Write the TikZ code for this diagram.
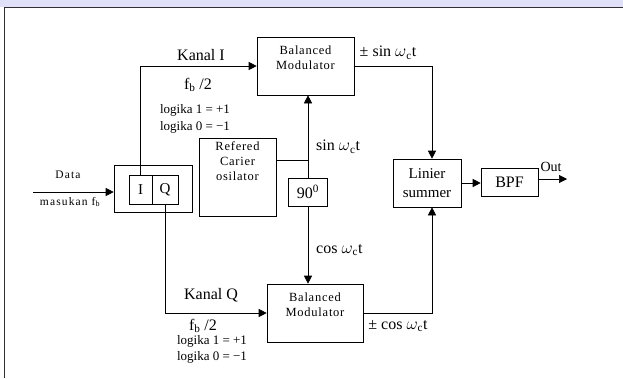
\documentclass[tikz,border=0pt]{standalone}
\usepackage{fontspec}
\setmainfont{Liberation Serif}
\usetikzlibrary{positioning, arrows.meta, calc}
\definecolor{bandblue}{HTML}{E0E0F8}
\definecolor{framegray}{HTML}{303030}
\newcommand{\wc}{\ensuremath{\omega}\textsubscript{c}t}
\tikzset{
	blockbox/.style={
			draw=black,
			line width=0.6pt,
			fill=white,
			inner sep=0pt,
			align=center,
			font=\fontsize{12.5}{15}\selectfont\addfontfeature{LetterSpace=6}
		},
	signal/.style={
			line width=0.6pt,
			-{Triangle[length=8pt,width=8pt]}
		},
	wire/.style={
			line width=0.6pt
		},
	biglabel/.style={
			inner sep=0pt,
			font=\fontsize{16}{18}\selectfont
		},
	smalllabel/.style={
			inner sep=0pt,
			font=\fontsize{13}{15}\selectfont
		},
	tinylabel/.style={
			inner sep=0pt,
			font=\fontsize{11.5}{13}\selectfont\addfontfeature{LetterSpace=10}
		}
}

\begin{document}
\begin{tikzpicture}[x=1pt, y=-1pt]
\useasboundingbox (0,0) rectangle (623,378);
% frame
\fill[bandblue] (0,0) rectangle (623,7);
\draw[framegray, line width=1.6pt] (4,7.5) -- (623,7.5);
\draw[framegray, line width=1.6pt] (4.5,7) -- (4.5,378);

% blocks
\node[blockbox, minimum width=78pt, minimum height=47pt] (iq) at (153,188.5) {};
\node[blockbox, minimum width=23pt, minimum height=29pt, font=\fontsize{15}{17}\selectfont] (chi) at (140.5,189.5) {I};
\node[blockbox, minimum width=26pt, minimum height=29pt, font=\fontsize{15}{17}\selectfont] (chq) at (165,189.5) {Q};
\node[blockbox, minimum width=97pt, minimum height=58pt, text depth=16pt] (modtop) at (305.5,66) {Balanced\\Modulator};
\node[blockbox, minimum width=96pt, minimum height=58pt, text depth=16pt] (modbot) at (315,313) {Balanced\\Modulator};
\node[blockbox, minimum width=77pt, minimum height=78pt, text depth=32pt] (osc) at (237.5,177) {Refered\\Carier\\osilator};
\node[blockbox, minimum width=39pt, minimum height=28pt, font=\fontsize{16}{18}\selectfont] (deg) at (308,192) {90\textsuperscript{0}};
\node[blockbox, minimum width=68pt, minimum height=48pt, font=\fontsize{15}{19}\selectfont] (summer) at (427,183) {Linier\\summer};
\node[blockbox, minimum width=57pt, minimum height=28pt, font=\fontsize{16}{18}\selectfont] (bpf) at (509.5,182) {BPF};

\coordinate (datain) at (33,192);
\coordinate (jn) at (308,160);
\coordinate (out) at (567,179);

% connectors
\draw[signal] (datain) -- (datain -| iq.west);
\draw[signal] (chi.north) |- (modtop.west);
\draw[signal] (chq.south) |- (modbot.west);
\draw[signal] (modtop.east) -| ([xshift=5pt]summer.north);
\draw[signal] (modbot.east) -| ([xshift=5pt]summer.south);
\draw[signal] (summer.east) -- (summer.east -| bpf.west);
\draw[signal] (out -| bpf.east) -- (out);
\draw[wire] (osc.east |- jn) -- (jn);
\draw[signal] (deg.north) -- (deg.north |- modtop.south);
\draw[signal] (deg.south) -- (deg.south |- modbot.north);

% labels
\node[tinylabel] (ldata) at (68,175) {Data};
\node[tinylabel] (lmasuk) at (70,202) {masukan f\textsubscript{b}};
\node[biglabel] (lkanali) at (201,55) {Kanal I};
\node[biglabel] (lfbi) at (198,85) {f\textsubscript{b} /2};
\node[smalllabel] (llogi1) at (195,110) {logika 1 = +1};
\node[smalllabel] (llogi0) at (195,127) {logika 0 = −1};
\node[biglabel] (lsinpm) at (388,53) {± sin \wc};
\node[biglabel, anchor=west] (lsin) at (316,147) {sin \wc};
\node[biglabel, anchor=west] (lcos) at (316,250) {cos \wc};
\node[biglabel] (lkanalq) at (211,295) {Kanal Q};
\node[biglabel] (lfbq) at (203,326) {f\textsubscript{b} /2};
\node[smalllabel] (llogq1) at (212,341) {logika 1 = +1};
\node[smalllabel] (llogq0) at (212,357) {logika 0 = −1};
\node[biglabel] (lcospm) at (398,326) {± cos \wc};
\node[smalllabel, font=\fontsize{14}{16}\selectfont] (lout) at (551,167) {Out};
\end{tikzpicture}
\end{document}
